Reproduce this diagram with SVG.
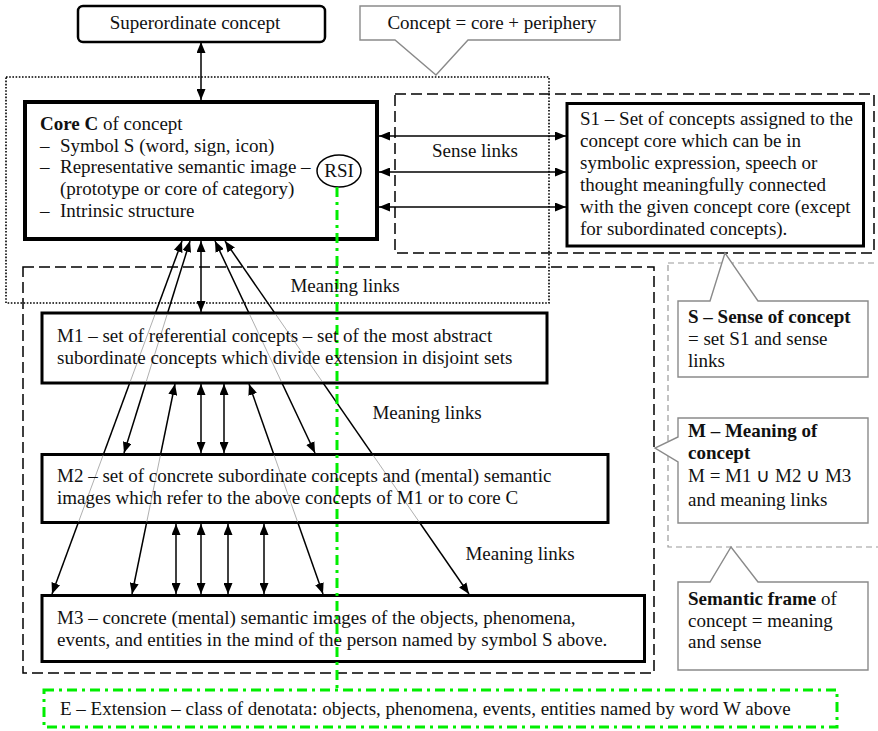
<svg xmlns="http://www.w3.org/2000/svg" width="878" height="731" viewBox="0 0 878 731">
  <style>
    text { font-family: "Liberation Serif", "Times New Roman", serif; font-size: 19px; fill: #111; }
    .b { font-weight: bold; }
    .mid { text-anchor: middle; }
    .box { fill: #fff; stroke: #000; stroke-width: 3; }
    .core { fill: #fff; stroke: #000; stroke-width: 4; }
    .link { fill: none; stroke: #000; stroke-width: 1.5; marker-start: url(#ah); marker-end: url(#ah); }
    .thin { fill: none; stroke: #8c8c8c; stroke-width: 0.7; }
    .dashed { fill: none; stroke: #000; stroke-width: 1.5; stroke-dasharray: 11 5; }
    .dotted { fill: none; stroke: #000; stroke-width: 1.6; stroke-dasharray: 1.6 1.6; }
    .graydash { fill: none; stroke: #9a9a9a; stroke-width: 1.2; stroke-dasharray: 6 4; }
    .callout { fill: #fff; stroke: #8a8a8a; stroke-width: 1.4; }
    .ext { fill: none; stroke: #00ee00; stroke-width: 3; stroke-dasharray: 10 5 3 5; }
  </style>
  <defs>
    <marker id="ah" viewBox="0 0 11 9" refX="11" refY="4.5" markerWidth="11" markerHeight="9" markerUnits="userSpaceOnUse" orient="auto-start-reverse">
      <path d="M0,0 L11,4.5 L0,9 Z" fill="#000"/>
    </marker>
    <clipPath id="mboxes">
      <rect x="43" y="314" width="503" height="68"/>
      <rect x="43" y="455" width="564" height="67"/>
    </clipPath>
  </defs>

  <!-- grouping frames -->
  <g id="frames">
    <rect class="dotted" x="6" y="77" width="543" height="226"/>
    <rect class="dashed" x="395" y="94" width="479" height="159"/>
    <rect class="dashed" x="23" y="267" width="631" height="406"/>
    <rect class="graydash" x="668" y="263" width="215" height="284"/>
  </g>

  <!-- connectors -->
  <g id="connectors">
    <line class="link" x1="201" y1="42" x2="201" y2="100"/>
    <line class="link" x1="379" y1="136" x2="566" y2="136"/>
    <line class="link" x1="379" y1="172" x2="566" y2="172"/>
    <line class="link" x1="379" y1="207" x2="566" y2="207"/>
    <line class="link" x1="201" y1="241" x2="201" y2="312"/>
    <line class="link" x1="201" y1="384" x2="201" y2="453"/>
    <line class="link" x1="224" y1="384" x2="224" y2="453"/>
    <line class="link" x1="176" y1="524" x2="176" y2="594"/>
    <line class="link" x1="201" y1="524" x2="201" y2="594"/>
    <line class="link" x1="228" y1="524" x2="228" y2="594"/>
    <line class="link" x1="264" y1="524" x2="264" y2="594"/>
    <line class="link" x1="182" y1="241" x2="52" y2="594"/>
    <line class="link" x1="190" y1="241" x2="124" y2="453"/>
    <line class="link" x1="215" y1="241" x2="315" y2="453"/>
    <line class="link" x1="225" y1="241" x2="469" y2="594"/>
    <line class="link" x1="175" y1="384" x2="132" y2="594"/>
    <line class="link" x1="249" y1="384" x2="323" y2="594"/>
  </g>

  <g id="superordinate">
    <rect x="78" y="6" width="247" height="36" rx="5" fill="#fff" stroke="#000" stroke-width="2.5"/>
    <text class="mid" x="195" y="29">Superordinate concept</text>
  </g>

  <g id="concept-note">
    <path class="callout" d="M360,6 H620 V40 H468 L436,75 L395,40 H360 Z"/>
    <text class="mid" x="492" y="29">Concept = core + periphery</text>
  </g>

  <g id="core">
    <rect class="core" x="25" y="102" width="352" height="137"/>
    <text x="40" y="130"><tspan class="b">Core C</tspan> of concept</text>
    <text x="40" y="152">–</text><text x="60" y="152">Symbol S (word, sign, icon)</text>
    <text x="40" y="173">–</text><text x="60" y="173">Representative semantic image –</text>
    <text x="60" y="195">(prototype or core of category)</text>
    <text x="40" y="217">–</text><text x="60" y="217">Intrinsic structure</text>
  </g>

  <g id="rsi">
    <ellipse cx="339" cy="171" rx="22" ry="16" fill="#fff" stroke="#000" stroke-width="1.5"/>
    <text class="mid" x="339" y="177">RSI</text>
  </g>

  <g id="s1">
    <rect class="box" x="567" y="103.5" width="296.5" height="142.5"/>
    <text x="580" y="125">S1 – Set of concepts assigned to the</text>
    <text x="580" y="147">concept core which can be in</text>
    <text x="580" y="169">symbolic expression, speech or</text>
    <text x="580" y="191">thought meaningfully connected</text>
    <text x="580" y="213">with the given concept core (except</text>
    <text x="580" y="235">for subordinated concepts).</text>
  </g>

  <g id="m1">
    <rect class="box" x="42" y="313" width="505" height="70"/>
  </g>
  <g id="m2">
    <rect class="box" x="42" y="454.5" width="566" height="68"/>
  </g>
  <g id="m3">
    <rect class="box" x="42" y="595.5" width="602.5" height="66"/>
  </g>

  <!-- links seen through the M1 and M2 boxes -->
  <g id="through-lines" clip-path="url(#mboxes)">
    <line class="thin" x1="182" y1="241" x2="52" y2="594"/>
    <line class="thin" x1="190" y1="241" x2="124" y2="453"/>
    <line class="thin" x1="215" y1="241" x2="315" y2="453"/>
    <line class="thin" x1="225" y1="241" x2="469" y2="594"/>
    <line class="thin" x1="175" y1="384" x2="132" y2="594"/>
    <line class="thin" x1="249" y1="384" x2="323" y2="594"/>
  </g>

  <!-- extension link -->
  <g id="extension">
    <line class="ext" x1="337" y1="187" x2="337" y2="689"/>
    <rect class="ext" x="44" y="690" width="793" height="37"/>
    <text x="60" y="715">E – Extension – class of denotata: objects, phenomena, events, entities named by word W above</text>
  </g>

  <g id="m-texts">
    <text x="57" y="342">M1 – set of referential concepts – set of the most abstract</text>
    <text x="57" y="364">subordinate concepts which divide extension in disjoint sets</text>
    <text x="57" y="482">M2 – set of concrete subordinate concepts and (mental) semantic</text>
    <text x="57" y="504">images which refer to the above concepts of M1 or to core C</text>
    <text x="57" y="624">M3 – concrete (mental) semantic images of the objects, phenomena,</text>
    <text x="57" y="646">events, and entities in the mind of the person named by symbol S above.</text>
  </g>

  <g id="link-labels">
    <text class="mid" x="475" y="157">Sense links</text>
    <text class="mid" x="345" y="292">Meaning links</text>
    <text class="mid" x="427" y="419">Meaning links</text>
    <text class="mid" x="520" y="560">Meaning links</text>
  </g>

  <g id="sense-note">
    <path class="callout" d="M678,301 H710 L725,253 L758,301 H868 V377 H678 Z"/>
    <text x="688" y="323" class="b">S – Sense of concept</text>
    <text x="688" y="345">= set S1 and sense</text>
    <text x="688" y="367">links</text>
  </g>

  <g id="meaning-note">
    <path class="callout" d="M678,418 H868 V523 H678 V462 L655,448 L678,437 Z"/>
    <text x="688" y="437" class="b">M – Meaning of</text>
    <text x="688" y="459" class="b">concept</text>
    <text x="688" y="482">M = M1 ∪ M2 ∪ M3</text>
    <text x="688" y="506">and meaning links</text>
  </g>

  <g id="frame-note">
    <path class="callout" d="M678,582 H710 L731,547 L758,582 H868 V670 H678 Z"/>
    <text x="688" y="605"><tspan class="b">Semantic frame</tspan> of</text>
    <text x="688" y="627">concept = meaning</text>
    <text x="688" y="648">and sense</text>
  </g>
</svg>
